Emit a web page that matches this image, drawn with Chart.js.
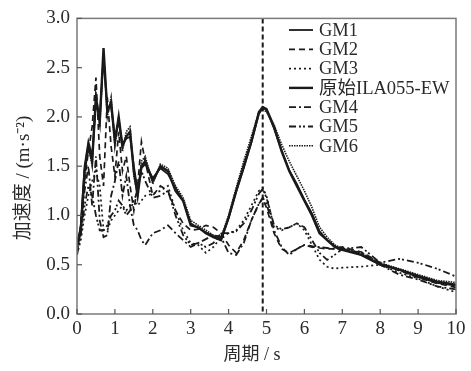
<!DOCTYPE html>
<html>
<head>
<meta charset="utf-8">
<script src="https://cdn.jsdelivr.net/npm/chart.js@4/dist/chart.umd.min.js"></script>
<style>
  html, body { margin: 0; padding: 0; background: #fff; }
  #wrap { width: 471px; height: 371px; }
</style>
</head>
<body>
<div id="wrap"><canvas id="spectrum" width="471" height="371"></canvas></div>
<script>
// periods (s)
const periods = [0, 0.1, 0.2, 0.3, 0.4, 0.5, 0.6, 0.7, 0.8, 0.9, 1.0, 1.1, 1.2, 1.3, 1.4, 1.5, 1.6, 1.7, 1.8,
  2.0, 2.2, 2.4, 2.6, 2.8, 3.0, 3.2, 3.4, 3.6, 3.8, 4.0, 4.2, 4.4, 4.6, 4.8, 4.9, 5.0, 5.2, 5.4, 5.6, 5.8,
  6.0, 6.2, 6.4, 6.6, 6.8, 7.0, 7.5, 8.0, 8.5, 9.0, 9.5, 10];

const gm1 = [0.68, 0.90, 1.50, 1.75, 1.60, 2.15, 2.00, 2.60, 2.10, 2.10, 1.80, 1.95, 1.72, 1.78, 1.80, 1.50, 1.25, 1.48, 1.52,
  1.38, 1.48, 1.42, 1.28, 1.15, 0.92, 0.87, 0.83, 0.79, 0.76, 0.97, 1.24, 1.48, 1.74, 2.03, 2.09, 2.07, 1.88, 1.66, 1.46, 1.32,
  1.16, 1.02, 0.84, 0.75, 0.69, 0.66, 0.60, 0.51, 0.45, 0.39, 0.33, 0.30];

const gm2 = [0.65, 0.90, 1.35, 1.65, 1.90, 2.40, 1.60, 1.30, 2.20, 1.70, 1.40, 1.85, 1.45, 1.60, 1.30, 1.05, 1.30, 1.75, 1.55,
  1.20, 1.30, 1.25, 1.05, 0.92, 0.85, 0.86, 0.90, 0.88, 0.82, 0.70, 0.62, 0.75, 0.95, 1.12, 1.17, 1.08, 0.82, 0.66, 0.62, 0.66,
  0.70, 0.69, 0.67, 0.66, 0.66, 0.68, 0.63, 0.52, 0.44, 0.37, 0.31, 0.27];

const gm3 = [0.60, 0.75, 1.00, 1.20, 1.35, 1.45, 1.30, 0.85, 0.85, 0.95, 1.00, 1.05, 1.10, 1.05, 1.10, 1.15, 1.10, 1.15, 1.20,
  1.22, 1.25, 1.30, 1.05, 0.85, 0.72, 0.70, 0.62, 0.68, 0.78, 0.82, 0.85, 0.95, 1.10, 1.25, 1.28, 1.20, 0.88, 0.85, 0.88, 0.92,
  0.85, 0.70, 0.55, 0.48, 0.46, 0.47, 0.48, 0.50, 0.42, 0.36, 0.28, 0.22];

const original = [0.70, 0.85, 1.45, 1.70, 1.55, 2.20, 1.95, 2.70, 2.05, 2.15, 1.75, 2.00, 1.70, 1.80, 1.85, 1.45, 1.20, 1.50, 1.55,
  1.35, 1.50, 1.45, 1.25, 1.15, 0.90, 0.88, 0.82, 0.78, 0.75, 0.98, 1.25, 1.50, 1.75, 2.05, 2.10, 2.08, 1.90, 1.65, 1.45, 1.30,
  1.15, 1.00, 0.82, 0.75, 0.68, 0.65, 0.60, 0.50, 0.45, 0.38, 0.32, 0.29];

const gm4 = [0.62, 0.85, 1.25, 1.50, 1.10, 1.60, 0.95, 0.78, 0.80, 1.20, 1.35, 1.55, 1.20, 1.40, 1.10, 0.90, 0.85, 0.75, 0.70,
  0.82, 0.85, 0.90, 0.82, 0.75, 0.68, 0.72, 0.76, 0.80, 0.78, 0.62, 0.60, 0.72, 0.95, 1.12, 1.18, 1.12, 0.85, 0.68, 0.60, 0.66,
  0.70, 0.68, 0.68, 0.67, 0.66, 0.66, 0.62, 0.50, 0.40, 0.35, 0.28, 0.25];

const gm5 = [0.60, 0.80, 1.10, 1.30, 1.20, 1.00, 0.85, 0.85, 0.90, 1.00, 1.05, 1.15, 1.10, 1.00, 1.05, 1.15, 1.25, 1.45, 1.35,
  1.18, 1.20, 1.25, 1.00, 0.80, 0.70, 0.72, 0.68, 0.72, 0.82, 0.82, 0.84, 0.92, 1.05, 1.22, 1.27, 1.18, 0.90, 0.86, 0.88, 0.92,
  0.88, 0.75, 0.62, 0.55, 0.60, 0.66, 0.68, 0.52, 0.56, 0.52, 0.46, 0.38];

const gm6 = [0.72, 0.88, 1.40, 1.72, 1.50, 2.25, 1.90, 2.65, 2.00, 2.20, 1.70, 2.00, 1.65, 1.85, 1.90, 1.40, 1.20, 1.55, 1.60,
  1.32, 1.52, 1.48, 1.30, 1.18, 0.95, 0.90, 0.85, 0.80, 0.78, 1.00, 1.28, 1.55, 1.80, 2.05, 2.08, 2.05, 1.92, 1.72, 1.55, 1.40,
  1.25, 1.08, 0.88, 0.78, 0.70, 0.67, 0.62, 0.52, 0.46, 0.40, 0.34, 0.32];

const seriesNames = ['GM1', 'GM2', 'GM3', '原始ILA055-EW', 'GM4', 'GM5', 'GM6'];
const seriesValues = [gm1, gm2, gm3, original, gm4, gm5, gm6];
const seriesDash = [[], [6, 4], [2, 3], [], [7, 3, 2, 3], [7, 3, 2, 2, 2, 3], [1.5, 1]];
const seriesWidth = [1.8, 1.7, 1.7, 2.4, 1.8, 1.8, 1.6];

const yTicks = [0, 0.5, 1.0, 1.5, 2.0, 2.5, 3.0];
const xTicks = [0, 1, 2, 3, 4, 5, 6, 7, 8, 9, 10];
const markerPeriod = 4.9;

const serif = '"Liberation Serif", "Noto Sans CJK SC", serif';
const textColor = '#2a2a2a';


// ============================
// FRAME, TICKS, MARKER, LEGEND, AXIS TITLES
// ============================

const decorPlugin = {
    id: 'decor',
    afterDraw(chart) {
        const { ctx, chartArea: a, scales: { x, y } } = chart;
        ctx.save();

        // vertical dashed marker
        const mx = x.getPixelForValue(markerPeriod);
        ctx.strokeStyle = '#1a1a1a';
        ctx.lineWidth = 2;
        ctx.setLineDash([5, 3]);
        ctx.beginPath();
        ctx.moveTo(mx, a.top);
        ctx.lineTo(mx, a.bottom);
        ctx.stroke();
        ctx.setLineDash([]);

        // frame
        ctx.strokeStyle = '#7a7a7a';
        ctx.lineWidth = 1.5;
        ctx.strokeRect(a.left, a.top, a.right - a.left, a.bottom - a.top);

        // inward ticks
        ctx.lineWidth = 1.2;
        ctx.strokeStyle = '#555';
        xTicks.forEach(v => {
            const px = x.getPixelForValue(v);
            ctx.beginPath();
            ctx.moveTo(px, a.bottom);
            ctx.lineTo(px, a.bottom - 5);
            ctx.stroke();
        });
        yTicks.forEach(v => {
            const py = y.getPixelForValue(v);
            ctx.beginPath();
            ctx.moveTo(a.left, py);
            ctx.lineTo(a.left + 5, py);
            ctx.stroke();
        });

        // legend
        ctx.font = '18.5px ' + serif;
        ctx.textBaseline = 'middle';
        ctx.textAlign = 'left';
        chart.data.datasets.forEach((ds, i) => {
            const ly = 30 + i * 19.3;
            ctx.strokeStyle = '#1a1a1a';
            ctx.lineWidth = ds.borderWidth;
            ctx.setLineDash(ds.borderDash);
            ctx.beginPath();
            ctx.moveTo(289, ly);
            ctx.lineTo(313, ly);
            ctx.stroke();
            ctx.setLineDash([]);
            ctx.fillStyle = textColor;
            ctx.fillText(ds.label, 319, ly + 1);
        });

        // axis titles
        ctx.fillStyle = textColor;
        ctx.font = '18px ' + serif;
        ctx.textAlign = 'center';
        ctx.fillText('周期 / s', 252, 355);

        ctx.translate(24, 178);
        ctx.rotate(-Math.PI / 2);
        ctx.font = '19px ' + serif;
        ctx.fillText('加速度 / (m·s⁻²)', 0, 0);

        ctx.restore();
    }
};


new Chart(document.getElementById('spectrum').getContext('2d'), {

    type: 'line',

    data: {
        datasets: seriesValues.map((vals, i) => ({
            label: seriesNames[i],
            data: periods.map((p, k) => ({ x: p, y: vals[k] })),
            borderColor: '#1a1a1a',
            borderWidth: seriesWidth[i],
            borderDash: seriesDash[i],
            pointRadius: 0,
            tension: 0,
            fill: false
        }))
    },

    options: {
        responsive: false,
        animation: false,
        devicePixelRatio: 1,
        layout: {
            padding: { top: 12, right: 15, left: 0, bottom: 0 }
        },
        scales: {
            x: {
                type: 'linear',
                min: 0,
                max: 10,
                afterFit: s => { s.height = 57; },
                afterBuildTicks: s => { s.ticks = xTicks.map(v => ({ value: v })); },
                ticks: {
                    color: textColor,
                    font: { family: serif, size: 19 },
                    padding: 4,
                    maxRotation: 0,
                    callback: v => String(v)
                },
                grid: { display: false, drawTicks: false },
                border: { display: false }
            },
            y: {
                min: 0,
                max: 3,
                afterFit: s => { s.width = 77; },
                afterBuildTicks: s => { s.ticks = yTicks.map(v => ({ value: v })); },
                ticks: {
                    color: textColor,
                    font: { family: serif, size: 19 },
                    padding: 7,
                    callback: v => Number(v).toFixed(1)
                },
                grid: { display: false, drawTicks: false },
                border: { display: false }
            }
        },
        plugins: {
            legend: { display: false },
            tooltip: { enabled: false }
        }
    },

    plugins: [decorPlugin]

});
</script>
</body>
</html>
